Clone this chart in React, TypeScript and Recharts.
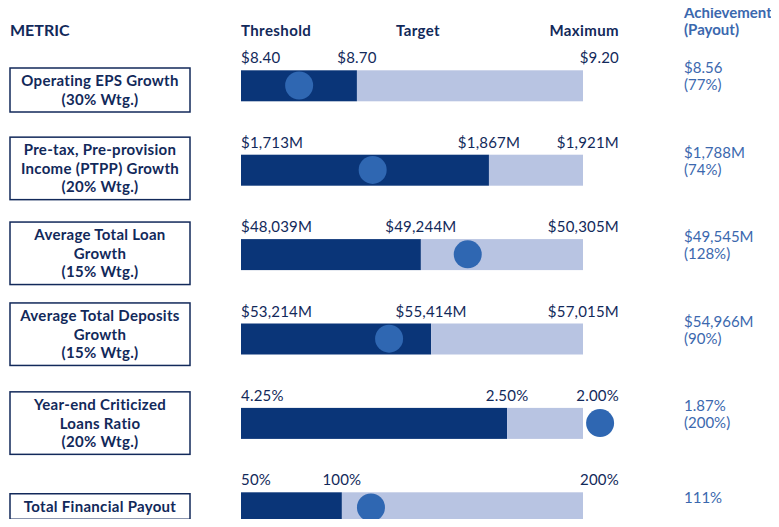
import React from "react";
import { Bar, ComposedChart, Scatter, XAxis, YAxis } from "recharts";

const metricLines: string[][] = [
  ["Operating EPS Growth", "(30% Wtg.)"],
  ["Pre-tax, Pre-provision", "Income (PTPP) Growth", "(20% Wtg.)"],
  ["Average Total Loan", "Growth", "(15% Wtg.)"],
  ["Average Total Deposits", "Growth", "(15% Wtg.)"],
  ["Year-end Criticized", "Loans Ratio", "(20% Wtg.)"],
  ["Total Financial Payout"],
];
const thresholdLabels = ["$8.40", "$1,713M", "$48,039M", "$53,214M", "4.25%", "50%"];
const targetLabels = ["$8.70", "$1,867M", "$49,244M", "$55,414M", "2.50%", "100%"];
const maximumLabels = ["$9.20", "$1,921M", "$50,305M", "$57,015M", "2.00%", "200%"];
const achievedLabels = ["$8.56", "$1,788M", "$49,545M", "$54,966M", "1.87%", "111%"];
const payoutLabels = ["(77%)", "(74%)", "(128%)", "(90%)", "(200%)", ""];
// position along the threshold→maximum bar, in % of its length
const targetPos = [33.9, 72.5, 52.6, 55.6, 77.8, 29.5];
const achievedPos = [17.0, 38.5, 66.3, 43.3, 105.0, 38.0];

const data = metricLines.map((lines, i) => ({
  name: lines.join("|"),
  dark: targetPos[i],
  light: 100 - targetPos[i],
  dot: achievedPos[i],
  threshold: thresholdLabels[i],
  target: targetLabels[i],
  maximum: maximumLabels[i],
  achieved: achievedLabels[i],
  payout: payoutLabels[i],
}));

const NAVY = "#0a3578";
const LIGHT = "#b8c4e2";
const DOT = "#2f67b2";
const TEXT = "#12295a";
const BLUE_TEXT = "#3b68ae";
const FONT = "Lato, 'Noto Sans', sans-serif";
const ACH_X = 684;
// small vertical nudges of the metric boxes against their bars
const boxShift = [4.5, -1.5, -1, -4.5, 0, -1];

function BoxTick(props: any) {
  const { y, payload, index } = props;
  const lines: string[] = String(payload.value).split("|");
  const lh = 18.5;
  const h = lines.length * lh + 7;
  const cy = y + (boxShift[index] ?? 0);
  return (
    <g>
      <rect x={10} y={cy - h / 2} width={180} height={h} fill="#fff" stroke={TEXT} strokeWidth={1.5} />
      {lines.map((l, i) => (
        <text
          key={i}
          x={100}
          y={cy + (i - (lines.length - 1) / 2) * lh + 5.5}
          textAnchor="middle"
          fontFamily={FONT}
          fontWeight={700}
          fontSize={15}
          letterSpacing={0.3}
          fill={TEXT}
        >
          {l}
        </text>
      ))}
    </g>
  );
}

function DarkShape(props: any) {
  const { x, y, width, height, payload } = props;
  return (
    <g>
      <rect x={x} y={y} width={width} height={height} fill={NAVY} />
      <text x={x} y={y - 7} fontFamily={FONT} fontSize={15} letterSpacing={0.2} fill={TEXT}>
        {payload.threshold}
      </text>
      <text x={x + width} y={y - 7} textAnchor="middle" fontFamily={FONT} fontSize={15} letterSpacing={0.2} fill={TEXT}>
        {payload.target}
      </text>
    </g>
  );
}

function LightShape(props: any) {
  const { x, y, width, height, payload } = props;
  const twoLines = payload.payout !== "";
  return (
    <g>
      <rect x={x} y={y} width={width} height={height} fill={LIGHT} />
      <text x={x + width + 36} y={y - 7} textAnchor="end" fontFamily={FONT} fontSize={15} letterSpacing={0.2} fill={TEXT}>
        {payload.maximum}
      </text>
      <text x={ACH_X} y={twoLines ? y + 3 : y + 11} fontFamily={FONT} fontSize={15} fill={BLUE_TEXT}>
        {payload.achieved}
      </text>
      {twoLines && (
        <text x={ACH_X} y={y + 20} fontFamily={FONT} fontSize={15} fill={BLUE_TEXT}>
          {payload.payout}
        </text>
      )}
    </g>
  );
}

function DotShape(props: any) {
  return <circle cx={props.cx} cy={props.cy} r={14} fill={DOT} />;
}

export default function App() {
  return (
    <div style={{ margin: -8, width: 779, height: 527, overflow: "hidden", position: "relative", background: "#fff" }}>
      <ComposedChart
        width={779}
        height={560}
        data={data}
        layout="vertical"
        margin={{ top: 43.3, right: 127.6, bottom: 10.3, left: 0 }}
      >
        <XAxis type="number" domain={[0, 120]} hide />
        <YAxis
          type="category"
          dataKey="name"
          width={241}
          axisLine={false}
          tickLine={false}
          interval={0}
          tick={<BoxTick />}
        />
        <Bar dataKey="dark" stackId="a" barSize={31} shape={<DarkShape />} isAnimationActive={false} />
        <Bar dataKey="light" stackId="a" barSize={31} shape={<LightShape />} isAnimationActive={false} />
        <Scatter dataKey="dot" shape={<DotShape />} isAnimationActive={false} />
        <text x={10} y={36} fontFamily={FONT} fontWeight={700} fontSize={16} fill={TEXT}>
          METRIC
        </text>
        <text x={241} y={36} fontFamily={FONT} fontWeight={700} fontSize={15} letterSpacing={0.4} fill={TEXT}>
          Threshold
        </text>
        <text x={418} y={36} textAnchor="middle" fontFamily={FONT} fontWeight={700} fontSize={15} letterSpacing={0.4} fill={TEXT}>
          Target
        </text>
        <text x={619} y={36} textAnchor="end" fontFamily={FONT} fontWeight={700} fontSize={15} letterSpacing={0.4} fill={TEXT}>
          Maximum
        </text>
        <text x={ACH_X} y={18} fontFamily={FONT} fontWeight={700} fontSize={15} fill={BLUE_TEXT}>
          Achievement
        </text>
        <text x={ACH_X} y={35} fontFamily={FONT} fontWeight={700} fontSize={15} fill={BLUE_TEXT}>
          (Payout)
        </text>
      </ComposedChart>
    </div>
  );
}
